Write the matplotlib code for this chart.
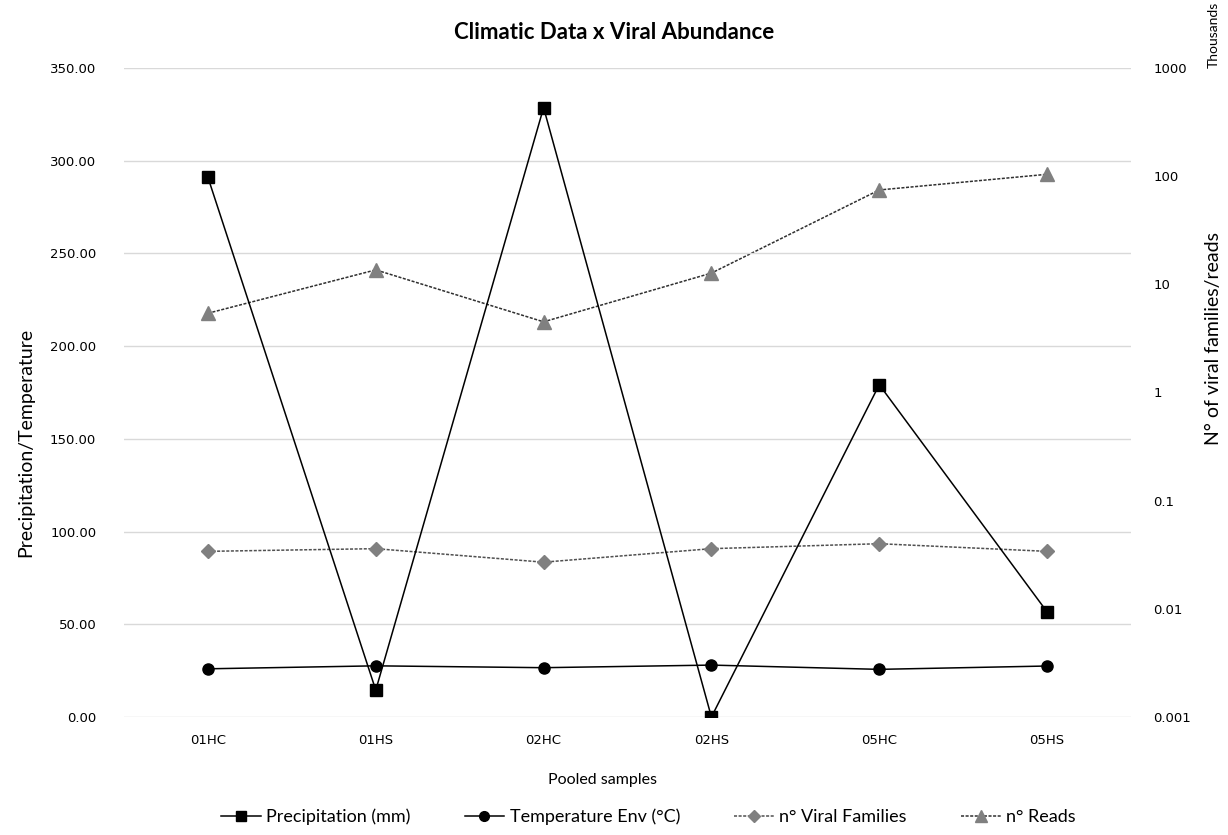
import numpy as np
import matplotlib
matplotlib.use("Agg")
import matplotlib.pyplot as plt
from matplotlib import ticker
from matplotlib.lines import Line2D

samples = ["01HC", "01HS", "02HC", "02HS", "05HC", "05HS"]
precipitation = [291.0, 14.5, 328.6, 0.0, 179.2, 56.7]
temperature = [26.0, 27.6, 26.6, 28.0, 25.7, 27.5]
# right axis values, in thousands
viral_families = [0.034, 0.036, 0.027, 0.036, 0.040, 0.034]
reads = [5.4, 13.6, 4.5, 12.7, 74.5, 104.0]

left_ticks = [0, 50, 100, 150, 200, 250, 300, 350]
right_ticks = [0.001, 0.01, 0.1, 1, 10, 100, 1000]

narrow = ["Lato", "DejaVu Sans"]
tickfont = "DejaVu Sans"

fig = plt.figure(figsize=(12.28, 8.35), dpi=100)
ax = fig.add_axes([0.101, 0.1413, 0.82, 0.7773])
ax2 = ax.twinx()

x = np.arange(len(samples))

# left axis: climate
ax.plot(x, precipitation, color="black", lw=1.1, marker="s", ms=8,
        zorder=5, label="Precipitation (mm)")
ax.plot(x, temperature, color="black", lw=1.1, marker="o", ms=8,
        zorder=5, label="Temperature Env (°C)")
ax.set_ylim(0, 350)
ax.set_xlim(-0.5, len(samples) - 0.5)
ax.set_yticks(left_ticks)
ax.yaxis.set_major_formatter(ticker.FuncFormatter(lambda v, p: f"{v:.2f}"))
ax.set_xticks(x)
ax.set_xticklabels(samples, fontfamily=tickfont, fontsize=9.5)
for t in ax.get_yticklabels():
    t.set_fontfamily(tickfont)
    t.set_fontsize(9.5)
ax.grid(axis="y", color="#d9d9d9", lw=1)
ax.set_axisbelow(True)
ax.tick_params(length=0, pad=20)
ax.tick_params(axis="x", pad=12)
for s in ax.spines.values():
    s.set_visible(False)

# right axis: viral abundance (log)
ax2.plot(x, viral_families, color="#505050", lw=1.1, ls=(0, (2, 1)),
         marker="D", ms=7, mfc="#808080", mec="#808080", zorder=3,
         label="n° Viral Families")
ax2.plot(x, reads, color="#303030", lw=1.1, ls=(0, (2, 1)),
         marker="^", ms=10, mfc="#808080", mec="#808080", zorder=3,
         label="n° Reads")
ax2.set_yscale("log")
ax2.set_ylim(0.001, 1000)
ax2.yaxis.set_major_locator(ticker.FixedLocator(right_ticks))
ax2.yaxis.set_minor_locator(ticker.NullLocator())
ax2.yaxis.set_major_formatter(ticker.FuncFormatter(lambda v, p: f"{v:g}"))
for t in ax2.get_yticklabels():
    t.set_fontfamily(tickfont)
    t.set_fontsize(9.5)
ax2.tick_params(length=0, pad=16)
for s in ax2.spines.values():
    s.set_visible(False)
ax.set_zorder(ax2.get_zorder() + 1)
ax.patch.set_visible(False)

fig.text(0.5, 0.961, "Climatic Data x Viral Abundance", ha="center", va="center",
         fontfamily=narrow, fontsize=16, fontweight="bold")
fig.text(0.021, 0.47, "Precipitation/Temperature", rotation=90, ha="center",
         va="center", fontfamily=narrow, fontsize=14)
fig.text(0.988, 0.595, "N° of viral families/reads", rotation=90, ha="center",
         va="center", fontfamily=narrow, fontsize=14)
fig.text(0.988, 0.958, "Thousands", rotation=90, ha="center", va="center",
         fontfamily=narrow, fontsize=10)
fig.text(0.491, 0.066, "Pooled samples", ha="center", va="center",
         fontfamily=narrow, fontsize=11.5)

handles = [
    Line2D([], [], color="black", lw=1.1, marker="s", ms=7),
    Line2D([], [], color="black", lw=1.1, marker="o", ms=7),
    Line2D([], [], color="#505050", lw=1.1, ls=(0, (2, 1)), marker="D", ms=6,
           mfc="#808080", mec="#808080"),
    Line2D([], [], color="#303030", lw=1.1, ls=(0, (2, 1)), marker="^", ms=8,
           mfc="#808080", mec="#808080"),
]
labels = ["Precipitation (mm)", "Temperature Env (°C)", "n° Viral Families", "n° Reads"]
fig.legend(handles, labels, loc="center", bbox_to_anchor=(0.528, 0.022), ncol=4,
           frameon=False, prop={"family": narrow, "size": 13}, handlelength=2.2,
           columnspacing=3.0, handletextpad=0.3)

fig.savefig("out.png", dpi=100)
